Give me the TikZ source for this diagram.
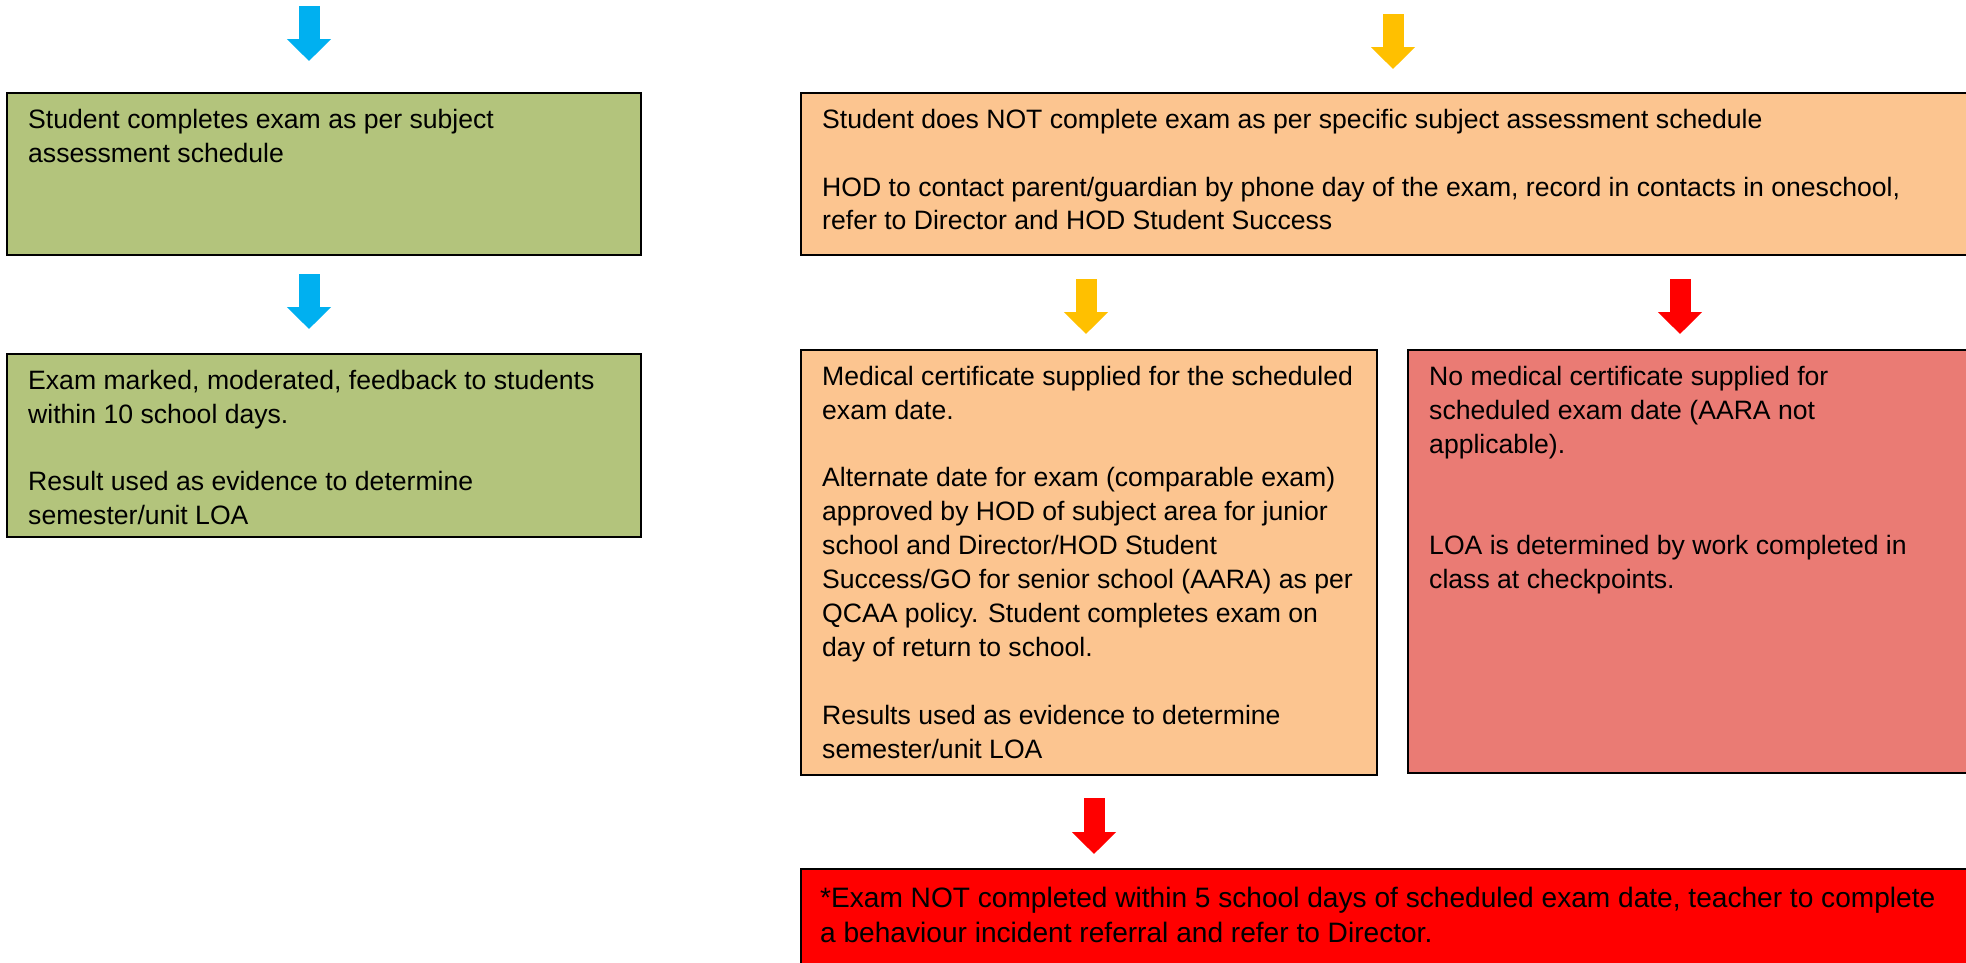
\documentclass[tikz,border=0pt]{standalone}
\usepackage{fontspec}
\setmainfont{Liberation Sans}
\usetikzlibrary{arrows.meta}
\definecolor{boxgreen}{HTML}{B3C47C}
\definecolor{boxorange}{HTML}{FCC590}
\definecolor{boxpink}{HTML}{EA7B74}
\definecolor{boxred}{HTML}{FF0000}
\definecolor{arrowblue}{HTML}{00B0F0}
\definecolor{arrowyellow}{HTML}{FFC000}
\definecolor{arrowred}{HTML}{FF0000}
\begin{document}
\begin{tikzpicture}[x=1pt,y=-1pt,
  box/.style={draw=black, line width=2pt, outer sep=0pt, inner sep=0pt, anchor=north west},
  txt/.style={anchor=north west, inner sep=0pt, align=left, font=\fontsize{26.6}{33.9}\selectfont},
  bigtxt/.style={txt, font=\fontsize{28.1}{35.4}\selectfont},
  blockarrow/.style={line width=21pt, -{Triangle[width=43pt,length=22pt]}}]
\useasboundingbox (0,0) rectangle (1966,962);
\fill[white] (0,0) rectangle (1966,962);
% boxes
\node[box, fill=boxgreen, minimum width=634pt, minimum height=162pt] (g1) at (7,93) {};
\node[box, fill=boxgreen, minimum width=634pt, minimum height=183pt] (g2) at (7,354) {};
\node[box, fill=boxorange, minimum width=1175pt, minimum height=162pt] (o1) at (801,93) {};
\node[box, fill=boxorange, minimum width=576pt, minimum height=425pt] (o2) at (801,350) {};
\node[box, fill=boxpink, minimum width=570pt, minimum height=423pt] (p1) at (1408,350) {};
\node[box, fill=boxred, minimum width=1175pt, minimum height=110pt] (r1) at (801,869) {};
% texts
\node[txt] (g1t) at ([xshift=21pt]g1.north west) {\rule{0pt}{35pt}Student completes exam as per subject\\assessment schedule};
\node[txt] (g2t) at ([xshift=21pt]g2.north west) {\rule{0pt}{35pt}Exam marked, moderated, feedback to students\\within 10 school days.\\[33.9pt]Result used as evidence to determine\\semester/unit LOA};
\node[txt] (o1t) at ([xshift=21pt]o1.north west) {\rule{0pt}{35pt}Student does NOT complete exam as per specific subject assessment schedule\\[33.9pt]HOD to contact parent/guardian by phone day of the exam, record in contacts in oneschool,\\refer to Director and HOD Student Success};
\node[txt] (o2t) at ([xshift=21pt]o2.north west) {\rule{0pt}{35pt}Medical certificate supplied for the scheduled\\exam date.\\[33.9pt]Alternate date for exam (comparable exam)\\approved by HOD of subject area for junior\\school and Director/HOD Student\\Success/GO for senior school (AARA) as per\\QCAA policy. Student completes exam on\\day of return to school.\\[33.9pt]Results used as evidence to determine\\semester/unit LOA};
\node[txt] (p1t) at ([xshift=21pt]p1.north west) {\rule{0pt}{35pt}No medical certificate supplied for\\scheduled exam date (AARA not\\applicable).\\[67.8pt]LOA is determined by work completed in\\class at checkpoints.};
\node[bigtxt] (r1t) at ([xshift=19pt]r1.north west) {\rule{0pt}{38pt}*Exam NOT completed within 5 school days of scheduled exam date, teacher to complete\\a behaviour incident referral and refer to Director.};
% arrows
\coordinate (a1s) at (309,6);   \coordinate (a1e) at (309,61);
\coordinate (a2s) at (309,274); \coordinate (a2e) at (309,329);
\coordinate (a3s) at (1393,14); \coordinate (a3e) at (1393,69);
\coordinate (a4s) at (1086,279); \coordinate (a4e) at (1086,334);
\coordinate (a5s) at (1680,279); \coordinate (a5e) at (1680,334);
\coordinate (a6s) at (1094,798); \coordinate (a6e) at (1094,854);
\draw[blockarrow, draw=arrowblue] (a1s) -- (a1e);
\draw[blockarrow, draw=arrowblue] (a2s) -- (a2e);
\draw[blockarrow, draw=arrowyellow] (a3s) -- (a3e);
\draw[blockarrow, draw=arrowyellow] (a4s) -- (a4e);
\draw[blockarrow, draw=arrowred] (a5s) -- (a5e);
\draw[blockarrow, draw=arrowred] (a6s) -- (a6e);
\end{tikzpicture}
\end{document}
